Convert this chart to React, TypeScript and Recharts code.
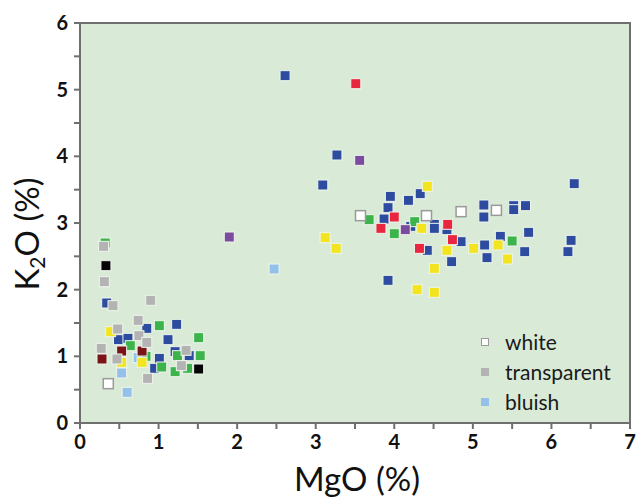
import { ReferenceArea, Scatter, ScatterChart, XAxis, YAxis } from 'recharts'

// [MgO %, K2O %], grouped by marker colour
const blue = [
  [2.61, 5.21], [3.27, 4.02], [3.09, 3.57], [6.29, 3.59], [3.95, 3.4], [4.33, 3.44], [4.18, 3.34],
  [3.92, 3.23], [3.87, 3.06], [4.21, 2.95], [4.51, 2.98], [4.51, 2.92], [4.67, 2.9], [4.42, 2.59],
  [4.73, 2.42], [3.92, 2.14], [5.14, 3.27], [5.14, 3.09], [5.52, 3.26], [5.52, 3.2], [5.67, 3.26],
  [4.85, 2.72], [5.15, 2.67], [5.35, 2.8], [5.71, 2.86], [5.18, 2.48], [5.66, 2.57], [6.25, 2.74],
  [6.21, 2.57], [0.34, 1.8], [0.85, 1.42], [1.23, 1.48], [0.49, 1.25], [0.61, 1.27], [1.12, 1.25],
  [1.01, 0.97], [0.95, 0.82], [1.21, 1.07], [1.39, 1.01],
]
const red = [[3.51, 5.09], [4.0, 3.09], [3.83, 2.92], [4.68, 2.98], [4.74, 2.75], [4.32, 2.62]]
const green = [
  [3.68, 3.05], [4.0, 2.84], [4.26, 3.02], [5.5, 2.73], [0.32, 2.7], [1.01, 1.46], [0.64, 1.16],
  [1.51, 1.28], [0.84, 1.0], [1.04, 0.84], [1.24, 1.01], [1.53, 1.01], [1.21, 0.77], [1.37, 0.82],
]
const yellow = [
  [4.42, 3.55], [4.35, 2.92], [4.67, 2.59], [4.51, 2.32], [4.29, 2.0], [4.51, 1.96], [3.12, 2.78],
  [3.26, 2.62], [5.01, 2.62], [5.32, 2.67], [5.44, 2.46], [0.39, 1.37], [0.53, 0.91], [0.79, 0.91],
]
const purple = [[3.56, 3.94], [4.14, 2.9], [1.9, 2.79]]
const white = [[3.57, 3.11], [4.41, 3.11], [4.85, 3.17], [5.3, 3.19], [0.36, 0.59]]
const transparent = [
  [0.3, 2.65], [0.31, 2.12], [0.42, 1.76], [0.9, 1.84], [0.74, 1.54], [0.48, 1.41], [0.75, 1.31],
  [0.85, 1.21], [0.27, 1.12], [0.47, 0.96], [1.35, 1.09], [1.29, 0.86], [0.86, 0.67],
]
const darkRed = [[0.53, 1.08], [0.79, 1.08], [0.28, 0.96]]
const black = [[0.33, 2.36], [1.51, 0.81]]
const bluish = [[2.47, 2.31], [0.74, 0.98], [0.53, 0.75], [0.6, 0.46]]

const xTicks = [0, 0.5, 1, 1.5, 2, 2.5, 3, 3.5, 4, 4.5, 5, 5.5, 6, 6.5, 7]
const yTicks = [0, 0.5, 1, 1.5, 2, 2.5, 3, 3.5, 4, 4.5, 5, 5.5, 6]

const legendItems = [
  { label: 'white', fill: '#ffffff', stroke: '#9a9a9a' },
  { label: 'transparent', fill: '#b3b3b3', stroke: 'none' },
  { label: 'bluish', fill: '#93c1ea', stroke: 'none' },
]

const SERIES = [
  { name: 'bluish', data: bluish, fill: '#93c1ea' },
  { name: 'blue', data: blue, fill: '#2d4b9f' },
  { name: 'green', data: green, fill: '#3cb44b' },
  { name: 'yellow', data: yellow, fill: '#f2e41f' },
  { name: 'red', data: red, fill: '#e8263f' },
  { name: 'purple', data: purple, fill: '#7b4b9d' },
  { name: 'darkRed', data: darkRed, fill: '#7b1416' },
  { name: 'transparent', data: transparent, fill: '#b3b3b3' },
  { name: 'black', data: black, fill: '#050505' },
  { name: 'white', data: white, fill: '#ffffff', stroke: '#9a9a9a' },
]

const FONT = 'Lato, "Open Sans", sans-serif'
const AXIS = '#6f6f6f'

const toPoints = (arr: number[][]) => arr.map(([x, y]) => ({ x, y }))

function square(fill: string, stroke?: string) {
  return (p: any) => (
    <rect
      x={p.cx - 5}
      y={p.cy - 5}
      width={10}
      height={10}
      fill={fill}
      stroke={stroke ?? '#eef5ec'}
      strokeWidth={stroke ? 1.5 : 1}
    />
  )
}

function XTick({ x, y, payload }: any) {
  if (!Number.isInteger(payload.value)) return null
  return (
    <text x={x} y={y + 20} textAnchor="middle" fontFamily={FONT} fontWeight="bold" fontSize={20} fill="#111">
      {payload.value}
    </text>
  )
}

function YTick({ x, y, payload }: any) {
  if (!Number.isInteger(payload.value)) return null
  return (
    <text x={x - 6} y={y + 7} textAnchor="end" fontFamily={FONT} fontWeight="bold" fontSize={20} fill="#111">
      {payload.value}
    </text>
  )
}

function LegendBox() {
  return (
    <div
      style={{
        position: 'absolute',
        left: 481,
        top: 327,
        fontFamily: FONT,
        fontSize: 21,
        lineHeight: '30px',
        color: '#1a1a1a',
      }}
    >
      {legendItems.map((it) => (
        <div key={it.label} style={{ display: 'flex', alignItems: 'center', height: 30 }}>
          <span
            style={{
              display: 'inline-block',
              width: 8,
              height: 8,
              background: it.fill,
              border: it.stroke === 'none' ? 'none' : `1px solid ${it.stroke}`,
              boxSizing: 'border-box',
              marginRight: 16,
            }}
          />
          {it.label}
        </div>
      ))}
    </div>
  )
}

export default function App() {
  return (
    <div style={{ position: 'absolute', left: 0, top: 0, width: 640, height: 497, background: '#fff' }}>
      <ScatterChart width={640} height={497} margin={{ top: 23, right: 10, left: 0, bottom: 0 }}>
        <XAxis
          type="number"
          dataKey="x"
          domain={[0, 7]}
          ticks={xTicks}
          interval={0}
          height={74}
          tickSize={6}
          tickMargin={0}
          axisLine={{ stroke: AXIS, strokeWidth: 2 }}
          tickLine={{ stroke: AXIS, strokeWidth: 2 }}
          tick={<XTick />}
        />
        <YAxis
          type="number"
          dataKey="y"
          domain={[0, 6]}
          ticks={yTicks}
          interval={0}
          width={80}
          tickSize={6}
          tickMargin={0}
          axisLine={{ stroke: AXIS, strokeWidth: 2 }}
          tickLine={{ stroke: AXIS, strokeWidth: 2 }}
          tick={<YTick />}
        />
        <ReferenceArea x1={0} x2={7} y1={0} y2={6} fill="#d9ebd6" fillOpacity={1} stroke={AXIS} strokeWidth={2} />
        {SERIES.map((s) => (
          <Scatter
            key={s.name}
            name={s.name}
            data={toPoints(s.data)}
            shape={square(s.fill, s.stroke)}
            isAnimationActive={false}
          />
        ))}
        <text x={357} y={491} textAnchor="middle" fontFamily={FONT} fontSize={33} fill="#111">
          MgO (%)
        </text>
        <text
          x={0}
          y={0}
          transform="translate(39,234) rotate(-90)"
          textAnchor="middle"
          fontFamily={FONT}
          fontSize={33}
          fill="#111"
        >
          K<tspan fontSize={21} dy={6}>2</tspan>
          <tspan dy={-6}>O (%)</tspan>
        </text>
      </ScatterChart>
      <LegendBox />
    </div>
  )
}
